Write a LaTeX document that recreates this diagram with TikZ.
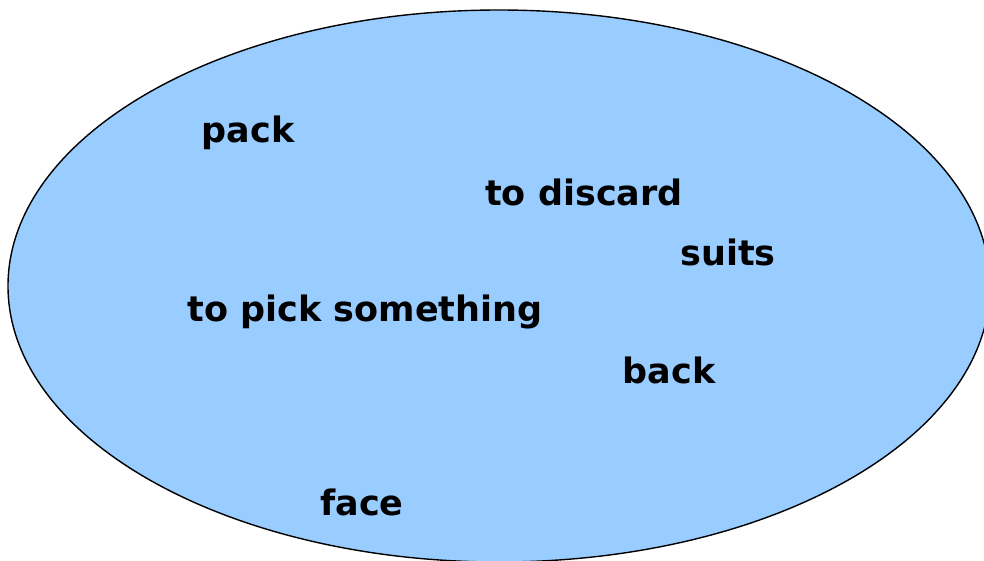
\documentclass[tikz,border=0pt]{standalone}
\usepackage{fontspec}
\setmainfont{DejaVu Sans}
\definecolor{setB}{HTML}{99CCFF}

\begin{document}
\begin{tikzpicture}[x=1pt,y=-1pt,word/.style={font=\fontsize{35}{40}\selectfont\bfseries,inner sep=0pt}]
\useasboundingbox (0,0) rectangle (984,560);
\begin{scope}
\clip (0,0) rectangle (984,560);
\filldraw[fill=setB,draw=black,line width=1.4pt] (499,286) ellipse [x radius=491,y radius=276];
\end{scope}
\node[word] (pack) at (248,133) {pack};
\node[word] (discard) at (584,192) {to discard};
\node[word] (suits) at (728,252) {suits};
\node[word] (pick) at (365,312) {to pick something};
\node[word] (back) at (669,370) {back};
\node[word] (face) at (362,502) {face};
\end{tikzpicture}
\end{document}
